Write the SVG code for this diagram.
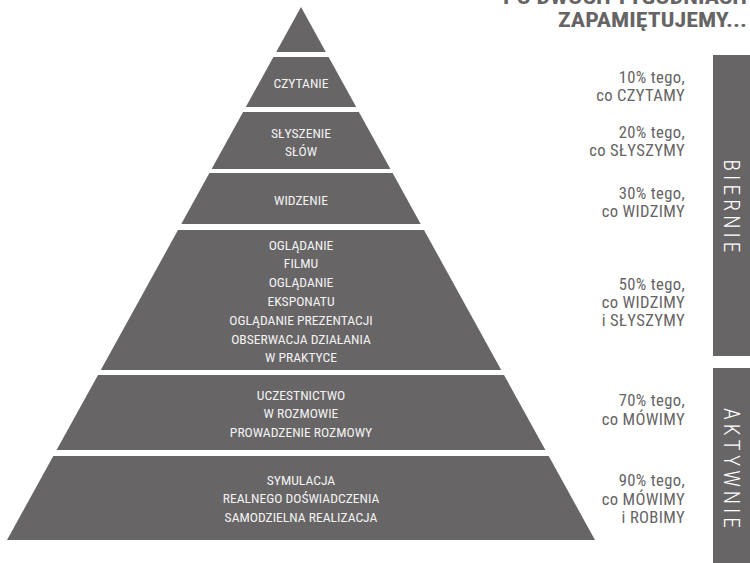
<svg xmlns="http://www.w3.org/2000/svg" width="750" height="563" viewBox="0 0 750 563">
<style>
.seg{fill:#686566}
.pt{font-family:"Roboto Condensed","Liberation Sans Narrow",Roboto,"Liberation Sans",sans-serif;font-size:13.6px;fill:#f2f2f2;text-anchor:middle}
.rt{font-family:"Roboto Condensed","Liberation Sans Narrow",Roboto,"Liberation Sans",sans-serif;font-size:16.6px;letter-spacing:0.35px;fill:#666465;text-anchor:end}
.hd{font-family:"Roboto Condensed","Liberation Sans Narrow",Roboto,"Liberation Sans",sans-serif;font-size:21px;font-weight:700;fill:#666465;text-anchor:end}
.bar{fill:#686566}
.vt{font-family:"Roboto Condensed","Liberation Sans Narrow",Roboto,"Liberation Sans",sans-serif;font-size:21.5px;font-weight:300;fill:#ffffff;text-anchor:middle}
</style>
<rect width="750" height="563" fill="#ffffff"/>
<g id="heading">
<text class="hd" x="747" y="3.5" textLength="244" lengthAdjust="spacingAndGlyphs">PO DWÓCH TYGODNIACH</text>
<text class="hd" x="747" y="27" textLength="189" lengthAdjust="spacingAndGlyphs">ZAPAMIĘTUJEMY...</text>
</g>
<g id="seg0"><polygon class="seg" points="301,7 325.8,52 276.2,52"/></g>
<g id="seg1"><polygon class="seg" points="273.4,57 328.6,57 356.2,107 245.8,107"/>
<text class="pt" x="301" y="88">CZYTANIE</text></g>
<g id="seg2"><polygon class="seg" points="243.1,112 358.9,112 390.4,169 211.6,169"/>
<text class="pt" x="301" y="137.5">SŁYSZENIE</text>
<text class="pt" x="301" y="156">SŁÓW</text></g>
<g id="seg3"><polygon class="seg" points="209.4,173 392.6,173 420.7,224 181.3,224"/>
<text class="pt" x="301" y="205">WIDZENIE</text></g>
<g id="seg4"><polygon class="seg" points="178,230 424,230 501.2,370 100.8,370"/>
<text class="pt" x="301" y="249.5">OGLĄDANIE</text>
<text class="pt" x="301" y="268.3">FILMU</text>
<text class="pt" x="301" y="287">OGLĄDANIE</text>
<text class="pt" x="301" y="306">EKSPONATU</text>
<text class="pt" x="301" y="324.7">OGLĄDANIE PREZENTACJI</text>
<text class="pt" x="301" y="343.5">OBSERWACJA DZIAŁANIA</text>
<text class="pt" x="301" y="362.3">W PRAKTYCE</text></g>
<g id="seg5"><polygon class="seg" points="98,375 504,375 545.4,450 56.6,450"/>
<text class="pt" x="301" y="400">UCZESTNICTWO</text>
<text class="pt" x="301" y="418.3">W ROZMOWIE</text>
<text class="pt" x="301" y="436.7">PROWADZENIE ROZMOWY</text></g>
<g id="seg6"><polygon class="seg" points="53.3,456 548.7,456 595,540 7,540"/>
<text class="pt" x="301" y="485">SYMULACJA</text>
<text class="pt" x="301" y="503.3">REALNEGO DOŚWIADCZENIA</text>
<text class="pt" x="301" y="521.7">SAMODZIELNA REALIZACJA</text></g>
<g id="labels">
<text class="rt" x="685" y="82.7">10% tego,</text>
<text class="rt" x="685" y="100.5">co CZYTAMY</text>
<text class="rt" x="685" y="137.5">20% tego,</text>
<text class="rt" x="685" y="156">co SŁYSZYMY</text>
<text class="rt" x="685" y="198.5">30% tego,</text>
<text class="rt" x="685" y="217">co WIDZIMY</text>
<text class="rt" x="685" y="289.5">50% tego,</text>
<text class="rt" x="685" y="307.5">co WIDZIMY</text>
<text class="rt" x="685" y="326">i SŁYSZYMY</text>
<text class="rt" x="685" y="406">70% tego,</text>
<text class="rt" x="685" y="424.5">co MÓWIMY</text>
<text class="rt" x="685" y="486">90% tego,</text>
<text class="rt" x="685" y="504.5">co MÓWIMY</text>
<text class="rt" x="685" y="523">i ROBIMY</text>
</g>
<g id="bierne"><rect class="bar" x="713" y="55" width="37" height="301"/>
<text class="vt" transform="translate(724.3,206) rotate(90)" x="0" y="0" textLength="93" lengthAdjust="spacing">BIERNIE</text></g>
<g id="aktywne"><rect class="bar" x="713" y="368" width="37" height="195"/>
<text class="vt" transform="translate(724.3,468) rotate(90)" x="0" y="0" textLength="120" lengthAdjust="spacing">AKTYWNIE</text></g>
</svg>
